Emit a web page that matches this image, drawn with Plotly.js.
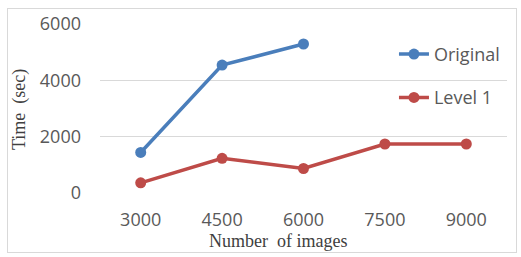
<!DOCTYPE html>
<html>
<head>
<meta charset="utf-8">
<script src="https://cdn.plot.ly/plotly-3.0.1.min.js"></script>
<style>
html,body{margin:0;padding:0;background:#fff;}
#wrap{position:relative;width:521px;height:257px;}
#chart{width:521px;height:257px;}
#frame{position:absolute;left:7px;top:8px;width:510px;height:245px;border:1px solid #d9d9d9;pointer-events:none;box-sizing:border-box;}
</style>
</head>
<body>
<div id="wrap"><div id="chart"></div><div id="frame"></div></div>
<script>
var categories = ["3000", "4500", "6000", "7500", "9000"];
var originalValues = [1440, 4540, 5290, null, null];
var level1Values = [360, 1230, 870, 1740, 1740];
var seriesNames = ["Original", "Level 1"];
var yTicks = [0, 2000, 4000, 6000];

var tickFont = {family: "Open Sans, sans-serif", size: 18, color: "#595959"};

var traces = [
  {x: categories, y: originalValues, name: seriesNames[0], type: "scatter", mode: "lines+markers",
   line: {color: "#4a7ebb", width: 3.5}, marker: {color: "#4a7ebb", size: 11}, legendgroup: "a"},
  {x: categories, y: level1Values, name: seriesNames[1], type: "scatter", mode: "lines+markers",
   line: {color: "#be4b48", width: 3.5}, marker: {color: "#be4b48", size: 11}, legendgroup: "b"}
];

var layout = {
  width: 521, height: 257,
  margin: {l: 100, r: 14, t: 24, b: 64},
  paper_bgcolor: "rgba(0,0,0,0)", plot_bgcolor: "rgba(0,0,0,0)",
  showlegend: true,
  legend: {x: 0.995, xanchor: "right", y: 0.93, yanchor: "top", bgcolor: "rgba(0,0,0,0)",
           font: tickFont, tracegroupgap: 17, traceorder: "grouped"},
  xaxis: {type: "category", range: [-0.5, categories.length - 0.5], tickfont: tickFont, showgrid: false, zeroline: false,
          showline: false, ticks: "", ticklabelstandoff: 14, fixedrange: true},
  yaxis: {range: [0, 6000], tickvals: yTicks, ticktext: yTicks.map(String), tickfont: tickFont,
          showgrid: true, gridcolor: "#d9d9d9", gridwidth: 1, zeroline: false,
          showline: false, ticks: "", ticklabelstandoff: 18, fixedrange: true},
  annotations: [
    {text: "Number  of images", xref: "paper", yref: "paper", x: (278 - 100) / 407, y: -(241 - 193) / 169,
     xanchor: "center", yanchor: "middle", showarrow: false,
     font: {family: "Liberation Serif, Times New Roman, serif", size: 18, color: "#404040"}},
    {text: "Time  (sec)", xref: "paper", yref: "paper", x: -(100 - 20) / 407, y: (193 - 110) / 169,
     xanchor: "center", yanchor: "middle", textangle: -90, showarrow: false,
     font: {family: "Liberation Serif, Times New Roman, serif", size: 18, color: "#404040"}}
  ]
};

Plotly.newPlot("chart", traces, layout, {staticPlot: true, displayModeBar: false});
</script>
</body>
</html>
